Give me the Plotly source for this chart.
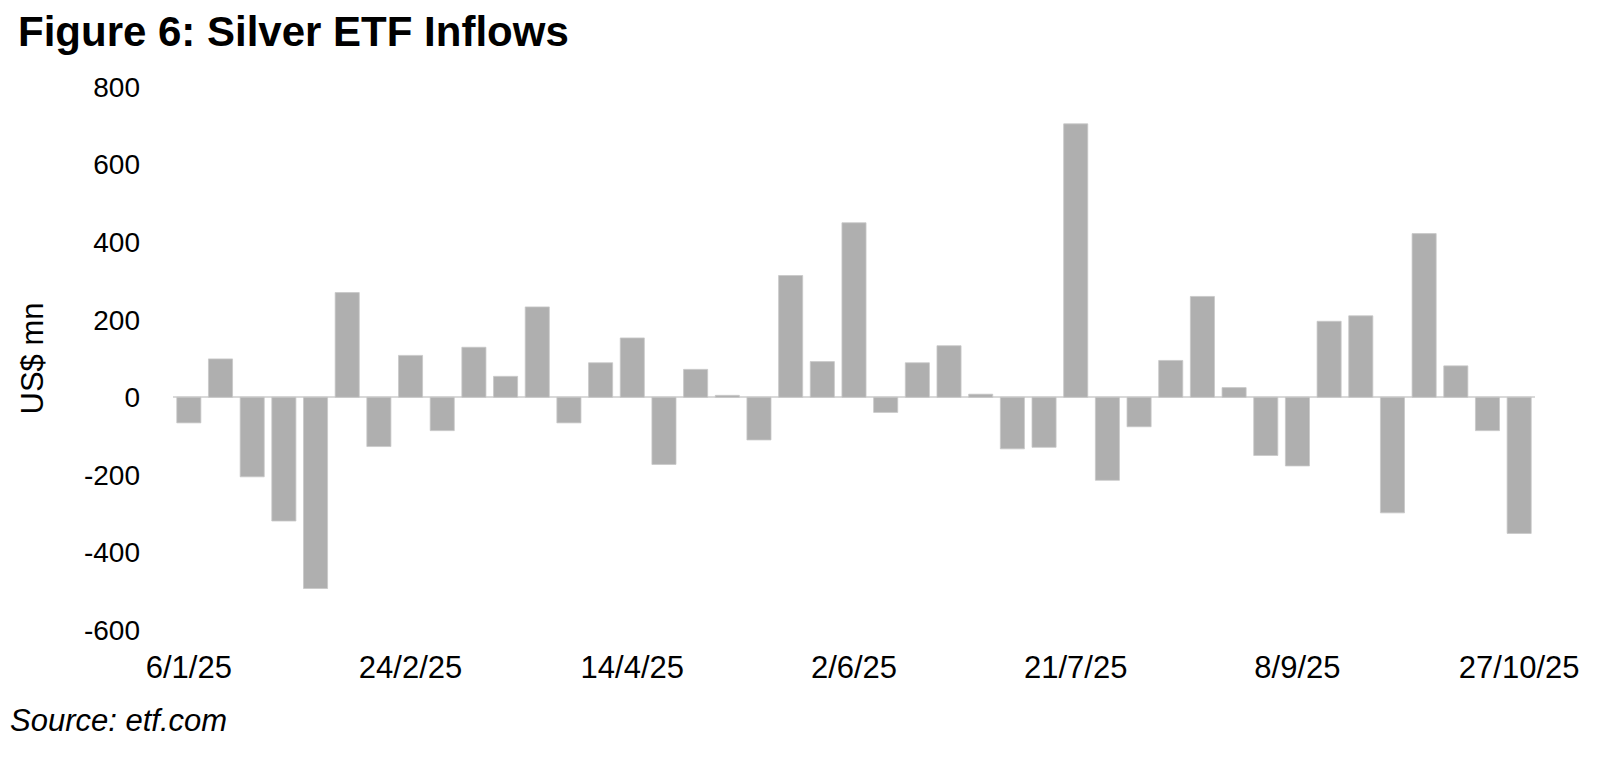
import plotly.graph_objects as go
import pandas as pd

# weekly silver ETF flows, US$ mn (week starting)
weeks = [d.strftime("%-d/%-m/%y") for d in pd.date_range("2025-01-06", periods=43, freq="7D")]
flows = [
    -66, 99, -205, -319, -493, 270, -127, 108, -86, 129,
    54, 233, -66, 89, 153, -173, 72, 5, -110, 314,
    92, 450, -39, 89, 133, 8, -133, -129, 705, -214,
    -76, 95, 260, 25, -150, -177, 196, 210, -298, 422,
    81, -86, -351,
]
tick_weeks = weeks[::7]
y_ticks = [-600, -400, -200, 0, 200, 400, 600, 800]
y_labels = [str(v) for v in y_ticks]  # plain hyphen, as in the source

BAR_COLOR = "#afafaf"
FONT = "Liberation Sans, Arial, sans-serif"
W, H = 1600, 758

fig = go.Figure()
fig.add_trace(go.Bar(
    x=weeks,
    y=flows,
    marker=dict(color=BAR_COLOR, line=dict(color="#c8c8c8", width=0.8)),
    hovertemplate="%{x}: %{y} US$ mn<extra></extra>",
))

# page body has an 8px margin, so positions below are 8px up/left of the target
fig.update_layout(
    width=W,
    height=H,
    margin=dict(l=165, r=73, t=79, b=136),
    paper_bgcolor="white",
    plot_bgcolor="white",
    bargap=0.24,
    showlegend=False,
    font=dict(family=FONT, color="black", size=28),
    title=dict(
        text="<b>Figure 6: Silver ETF Inflows</b>",
        x=10 / W, xanchor="left", xref="container",
        y=1 - 23 / H, yanchor="middle", yref="container",
        font=dict(size=42, color="black", family=FONT),
    ),
    annotations=[dict(
        text="<i>Source: etf.com</i>",
        xref="paper", yref="paper",
        x=-165 / 1362, y=-(712 - 622) / 543,
        xanchor="left", yanchor="middle", showarrow=False,
        font=dict(size=31, color="black", family=FONT),
    )],
)

fig.update_xaxes(
    type="category",
    tickmode="array",
    tickvals=tick_weeks,
    ticktext=tick_weeks,
    tickangle=0,
    showgrid=False,
    showline=False,
    ticks="",
    automargin=False,
    ticklabelstandoff=16,
    tickfont=dict(size=31),
)
fig.update_yaxes(
    range=[-600, 800],
    tickmode="array",
    tickvals=y_ticks,
    ticktext=y_labels,
    showgrid=False,
    zeroline=True,
    zerolinecolor="#d9d9d9",
    zerolinewidth=2,
    showline=False,
    ticks="",
    automargin=False,
    ticklabelstandoff=32,
    tickfont=dict(size=28),
    title=dict(text="US$ mn", font=dict(size=31), standoff=31),
)

fig.write_html("out.html")
